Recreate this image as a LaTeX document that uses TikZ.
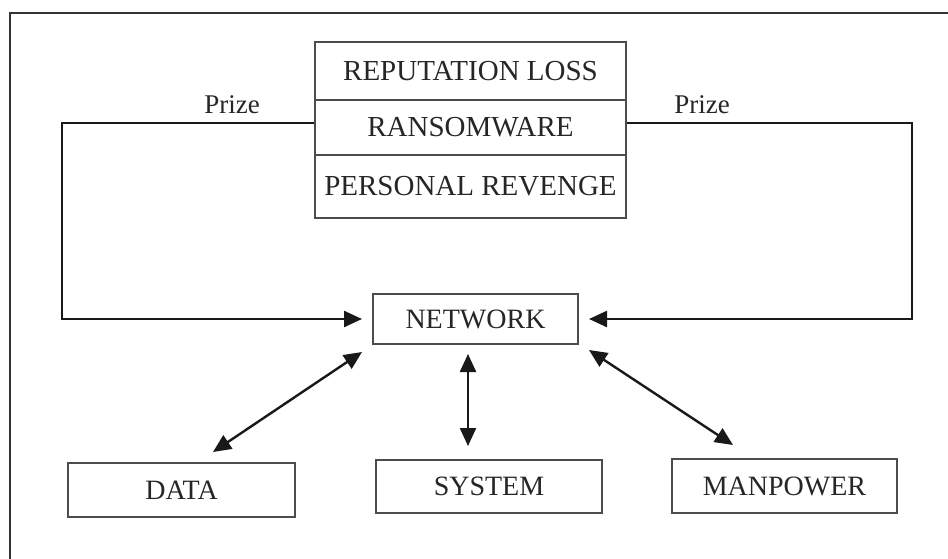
\documentclass[tikz,border=0pt]{standalone}
\usepackage{fontspec}
\setmainfont{Liberation Serif}
\usetikzlibrary{arrows.meta}
\begin{document}
\begin{tikzpicture}[x=1pt,y=-1pt,
  box/.style={draw=black!70,line width=2pt,inner sep=0pt,text=black!85,
    font=\fontsize{28}{30}\selectfont},
  topbox/.style={box,font=\fontsize{29}{31}\selectfont},
  lbl/.style={text=black!85,font=\fontsize{27}{29}\selectfont,inner sep=0pt},
  conn/.style={draw=black!90,line width=2.4pt},
  tip/.style={-{Triangle[length=18pt,width=16pt]}},
  dtip/.style={{Triangle[length=18pt,width=16pt]}-{Triangle[length=18pt,width=16pt]}}]
\useasboundingbox (0,0) rectangle (948,559);
\fill[white] (0,0) rectangle (948,559);
% frame
\draw[black!80,line width=2.4pt] (948,13) -- (10,13) -- (10,559);
% top stacked box
\node[topbox,minimum width=311pt,minimum height=58pt] (rep) at (470.5,71) {REPUTATION LOSS};
\node[topbox,minimum width=311pt,minimum height=55pt] (ran) at (470.5,127.5) {RANSOMWARE};
\node[topbox,minimum width=311pt,minimum height=63pt] (per) at (470.5,186.5) {PERSONAL REVENGE};
% network
\node[box,minimum width=205pt,minimum height=50pt] (net) at (475.5,319) {NETWORK};
% bottom boxes
\node[box,minimum width=227pt,minimum height=54pt] (data) at (181.5,490) {DATA};
\node[box,minimum width=226pt,minimum height=53pt] (sys) at (489,486.5) {SYSTEM};
\node[box,minimum width=225pt,minimum height=54pt] (man) at (784.5,486) {MANPOWER};
% prize connectors
\coordinate (lc) at (62,123);
\coordinate (rc) at (912,123);
\draw[conn,tip,shorten >=10pt] ([yshift=4.5pt]ran.west) -- (lc) |- (net.west);
\draw[conn,tip,shorten >=10pt] ([yshift=4.5pt]ran.east) -- (rc) |- (net.east);
\node[lbl] (pl) at (232,105) {Prize};
\node[lbl] (pr) at (702,105) {Prize};
% bidirectional connectors
\draw[conn,dtip] ([xshift=31.5pt,yshift=10pt]data.north) -- ([xshift=-10pt,yshift=-7pt]net.south west);
\draw[conn,dtip] ([xshift=-21pt,yshift=13pt]sys.north) -- ([xshift=-7.5pt,yshift=-9pt]net.south);
\draw[conn,dtip] ([xshift=-51.5pt,yshift=13pt]man.north) -- ([xshift=10pt,yshift=-5pt]net.south east);
\end{tikzpicture}
\end{document}
